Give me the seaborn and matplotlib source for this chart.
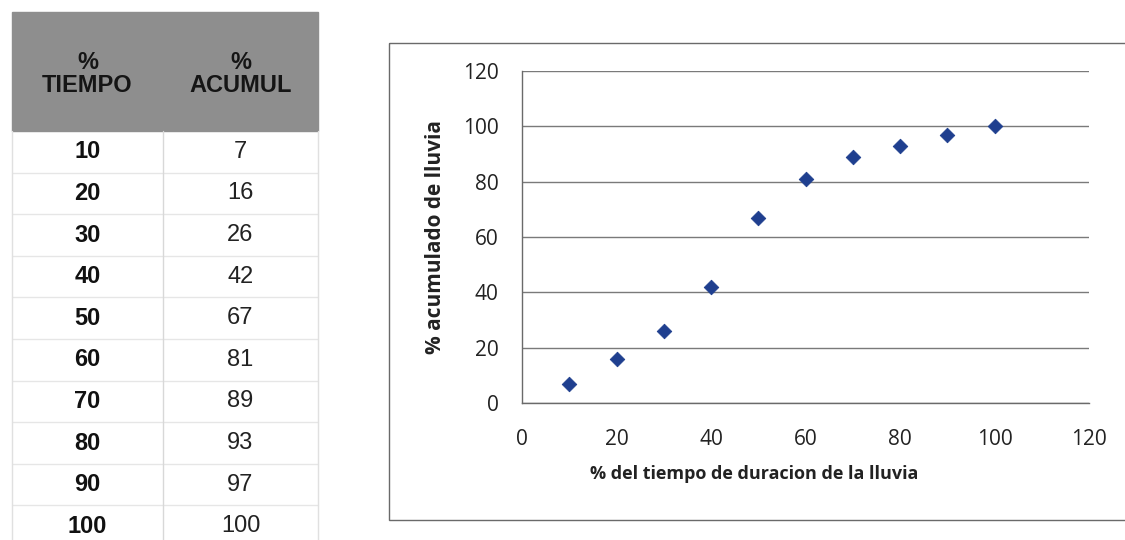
import matplotlib
matplotlib.use("Agg")
import matplotlib.pyplot as plt
import seaborn as sns
import pandas as pd
from matplotlib.patches import Rectangle

# === DATA ===
tiempo = [10, 20, 30, 40, 50, 60, 70, 80, 90, 100]
acumul = [7, 16, 26, 42, 67, 81, 89, 93, 97, 100]
header = ["%\nTIEMPO", "%\nACUMUL"]
x_ticks = [0, 20, 40, 60, 80, 100, 120]
y_ticks = [0, 20, 40, 60, 80, 100, 120]

df = pd.DataFrame({"tiempo": tiempo, "acumul": acumul})

sns.set_theme(style="white")
plt.rcParams['font.family'] = ['Open Sans', 'DejaVu Sans']

W, H = 1125, 540
fig = plt.figure(figsize=(W / 100, H / 100), dpi=100)

# === TABLE (drawn in pixel coordinates) ===
tab = fig.add_axes([0, 0, 1, 1])
tab.set_xlim(0, W)
tab.set_ylim(H, 0)
tab.axis("off")

tx0, tx1, tmid = 12, 318, 163
hy0, hy1 = 12, 131
row_h = 41.6
tab.add_patch(Rectangle((tx0, hy0), tx1 - tx0, hy1 - hy0, color="#8e8e8e", zorder=1))
for i, txt in enumerate(header):
    cx = (tx0 + tmid) / 2 if i == 0 else (tmid + tx1) / 2
    tab.text(cx, 74, txt, ha="center", va="center", fontsize=17,
             fontweight="bold", family="Liberation Sans", color="#151515", linespacing=1.0)
for r, (t, a) in enumerate(zip(tiempo, acumul)):
    cy = hy1 + row_h * (r + 0.5)
    tab.text((tx0 + tmid) / 2, cy, str(t), ha="center", va="center", fontsize=17,
             fontweight="bold", family="Liberation Sans", color="#111111")
    tab.text((tmid + tx1) / 2, cy, str(a), ha="center", va="center", fontsize=17,
             family="Liberation Sans", color="#222222")
    if r < len(tiempo) - 1:
        tab.plot([tx0, tx1], [hy1 + row_h * (r + 1)] * 2, color="#e6e6e6", lw=1)
tab.plot([tmid, tmid], [hy1, H], color="#d8d8d8", lw=1)
tab.plot([tx0, tx0], [hy1, H], color="#e0e0e0", lw=1)
tab.plot([tx1, tx1], [hy1, H], color="#e0e0e0", lw=1)

# chart border
tab.add_patch(Rectangle((389, 43), 760, 477, fill=False, edgecolor="#6a6a6a", lw=1, zorder=1))

# === SCATTER CHART ===
px0, px1, py0, py1 = 522, 1089, 71, 403
ax = fig.add_axes([px0 / W, (H - py1) / H, (px1 - px0) / W, (py1 - py0) / H])
sns.scatterplot(data=df, x="tiempo", y="acumul", marker="D", s=55, color="#1f3f8f",
                edgecolor="#1f3f8f", ax=ax, zorder=3, clip_on=False)
ax.set_xlim(0, 120)
ax.set_ylim(0, 120)
ax.set_xticks(x_ticks)
ax.set_yticks(y_ticks)
ax.yaxis.grid(True, color="#7a7a7a", lw=1)
ax.xaxis.grid(False)
for s in ["top", "right"]:
    ax.spines[s].set_visible(False)
for s in ["left", "bottom"]:
    ax.spines[s].set_color("#6a6a6a")
    ax.spines[s].set_linewidth(1)
ax.tick_params(axis="x", length=0, pad=19, labelsize=15, colors="#222222")
ax.tick_params(axis="y", length=0, pad=17, labelsize=15, colors="#222222")
ax.set_xlabel("% del tiempo de duracion de la lluvia", fontsize=13, fontweight="bold",
              color="#222222")
ax.set_ylabel("% acumulado de lluvia", fontsize=15, fontweight="bold", color="#222222")
ax.xaxis.set_label_coords(0.409, -0.187)
ax.yaxis.set_label_coords(-0.134, 0.5)

fig.savefig("out.png", dpi=100)
